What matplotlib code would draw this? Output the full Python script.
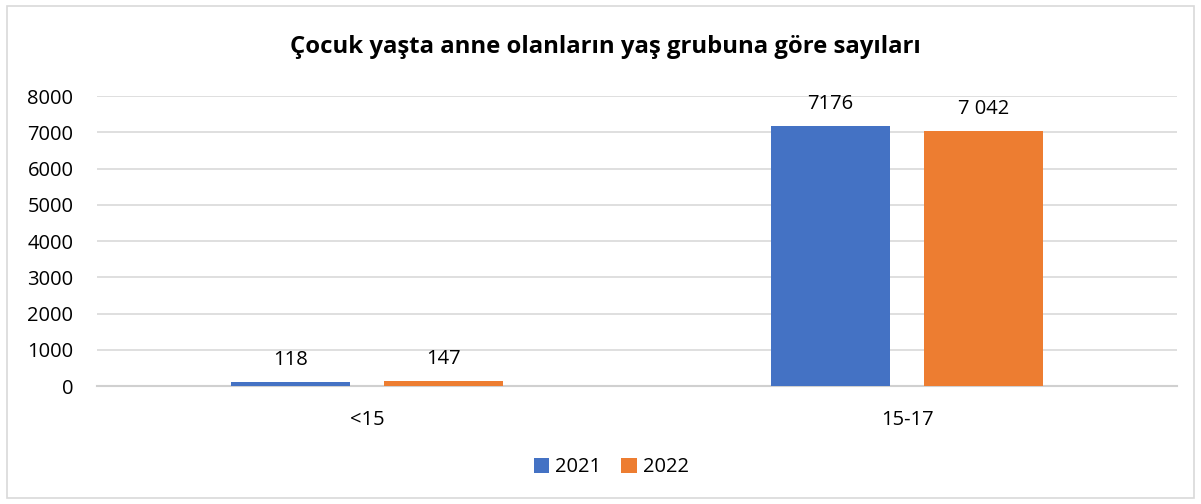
import matplotlib
matplotlib.use("Agg")
import matplotlib.pyplot as plt
from matplotlib.patches import Rectangle
import numpy as np

categories = ["<15", "15-17"]
series_names = ["2021", "2022"]
values_2021 = [118, 7176]
values_2022 = [147, 7042]
labels_2021 = ["118", "7176"]
labels_2022 = ["147", "7 042"]
yticks = [0, 1000, 2000, 3000, 4000, 5000, 6000, 7000, 8000]
colors = ["#4472C4", "#ED7D31"]

plt.rcParams['font.family'] = ['Open Sans', 'DejaVu Sans']

fs = 14.5

fig = plt.figure(figsize=(12.01, 5.04), dpi=100)
ax = fig.add_axes([0.0808, 0.2341, 0.8992, 0.5754])

x = np.arange(len(categories))
w = 0.222
off = 0.1417
b1 = ax.bar(x - off, values_2021, w, color=colors[0], label=series_names[0], zorder=3)
b2 = ax.bar(x + off, values_2022, w, color=colors[1], label=series_names[1], zorder=3)

for bars, labs in ((b1, labels_2021), (b2, labels_2022)):
    for r, l in zip(bars, labs):
        ax.annotate(l, (r.get_x() + r.get_width() / 2, r.get_height()),
                    xytext=(0, 8.5), textcoords="offset points",
                    ha="center", va="bottom", fontsize=fs, color="#000000")

ax.set_xlim(-0.5, 1.5)
ax.set_ylim(0, 8000)
ax.set_yticks(yticks)
ax.set_yticklabels([str(t) for t in yticks])
ax.set_xticks(x)
ax.set_xticklabels(categories)
ax.tick_params(axis='both', length=0, labelsize=fs, colors="#000000")
ax.tick_params(axis='y', pad=17)
ax.tick_params(axis='x', pad=17)
ax.grid(axis='y', color="#D9D9D9", linewidth=1.2, zorder=0)
for s in ["top", "right", "left"]:
    ax.spines[s].set_visible(False)
ax.spines["bottom"].set_color("#D0D0D0")
ax.spines["bottom"].set_linewidth(1.5)

fig.text(0.504, 0.907, "Çocuk yaşta anne olanların yaş grubuna göre sayıları",
         ha="center", va="center", fontsize=17.2, fontweight="bold")

fig.legend(handles=[b1, b2], labels=series_names, loc="center",
           bbox_to_anchor=(0.509, 0.073), ncol=2, frameon=False,
           fontsize=fs, handlelength=0.75, handleheight=0.75,
           handletextpad=0.3, columnspacing=1.0)

fig.patches.append(Rectangle((0.006, 0.012), 0.988, 0.976, transform=fig.transFigure,
                             fill=False, edgecolor="#D9D9D9", linewidth=1.2))

fig.savefig("out.png", dpi=100)
